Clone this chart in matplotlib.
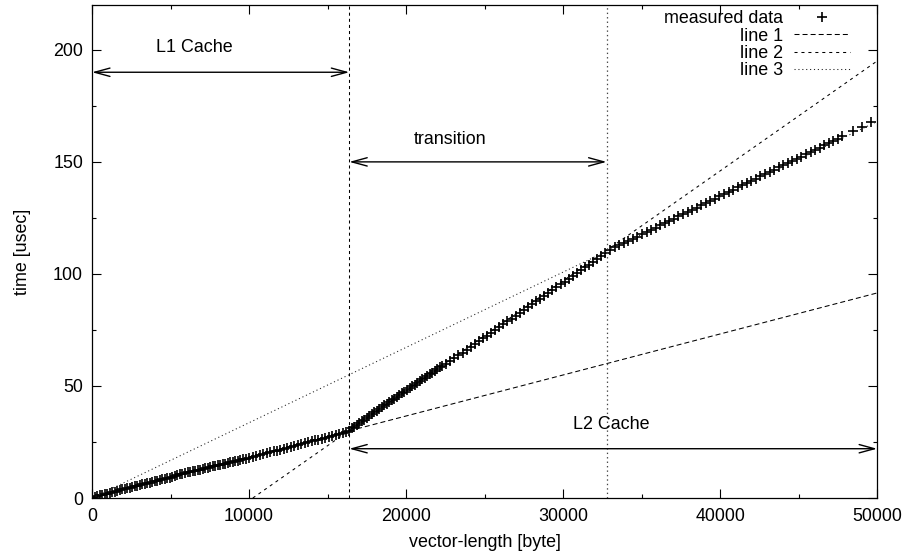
"""
Cache timing plot: time vs vector length with L1/L2 regions
"""
import matplotlib
matplotlib.use('Agg')
import matplotlib.pyplot as plt
from matplotlib.ticker import MultipleLocator

plt.rcParams['font.family'] = ['Liberation Sans', 'DejaVu Sans']
plt.rcParams['font.size'] = 12.9
plt.rcParams['lines.scale_dashes'] = False

size_l1 = [0, 160, 320, 480, 640, 800, 960, 1120, 1280, 1440, 1600, 1760, 1920,
           2080, 2240, 2400, 2560, 2720, 2880, 3040, 3200, 3360, 3520, 3680, 3840,
           4000, 4160, 4320, 4480, 4640, 4800, 4960, 5120, 5280, 5440, 5600, 5760,
           5920, 6080, 6240, 6400, 6560, 6720, 6880, 7040, 7200, 7360, 7520, 7680,
           7840, 8000, 8160, 8320, 8480, 8640, 8800, 8960, 9120, 9280, 9440, 9600]
time_l1 = [0.3, 0.6, 0.9, 1.2, 1.5, 1.8, 2.0, 2.3, 2.6, 2.9, 3.2, 3.5, 3.8,
           4.1, 4.3, 4.6, 4.9, 5.2, 5.5, 5.8, 6.1, 6.3, 6.6, 6.9, 7.2,
           7.5, 7.7, 8.0, 8.3, 8.5, 8.8, 9.0, 9.3, 9.7, 10.2, 10.6, 10.9,
           11.1, 11.4, 11.7, 11.9, 12.2, 12.5, 12.7, 13.0, 13.3, 13.5, 13.8, 14.1,
           14.3, 14.6, 14.9, 15.1, 15.4, 15.6, 15.9, 16.2, 16.4, 16.7, 17.0, 17.2]

size_l1b = [9800, 10020, 10240, 10460, 10680, 10900, 11120, 11340, 11560, 11780,
            12000, 12220, 12440, 12660, 12880, 13100, 13320, 13540, 13760, 13980,
            14200, 14420, 14640, 14860, 15080, 15300, 15520, 15740, 15960, 16180, 16384]
time_l1b = [17.6, 18.0, 18.4, 18.8, 19.2, 19.6, 20.0, 20.4, 20.8, 21.2,
            21.6, 22.0, 22.4, 22.8, 23.3, 23.7, 24.1, 24.5, 24.9, 25.3,
            25.7, 26.1, 26.5, 26.9, 27.3, 27.7, 28.1, 28.5, 28.9, 29.3, 29.8]

size_trans = [16540, 16700, 16860, 17020, 17180, 17340, 17500, 17660, 17820, 17980,
              18140, 18300, 18460, 18620, 18780, 18940, 19100, 19260, 19420, 19580,
              19740, 19900, 20060, 20220, 20380, 20540, 20700, 20860, 21020, 21180,
              21340, 21500, 21660, 21820, 21980, 22140, 22300]
time_trans = [31.2, 31.9, 32.7, 33.4, 34.2, 35.0, 35.8, 36.6, 37.4, 38.2,
              39.0, 39.8, 40.6, 41.3, 42.1, 42.9, 43.6, 44.4, 45.2, 45.9,
              46.7, 47.5, 48.3, 49.0, 49.8, 50.6, 51.3, 52.1, 52.9, 53.7,
              54.4, 55.2, 56.0, 56.7, 57.5, 58.3, 59.0]

size_trans2 = [22560, 22820, 23080, 23340, 23600, 23860, 24120, 24380, 24640, 24900,
               25160, 25420, 25680, 25940, 26200, 26460, 26720, 26980, 27240, 27500,
               27760, 28020, 28280, 28540, 28800, 29060, 29320, 29580, 29840, 30100,
               30360, 30620, 30880, 31140, 31400, 31660, 31920, 32180, 32440, 32700]
time_trans2 = [59.8, 61.1, 62.3, 63.6, 64.9, 66.1, 67.4, 68.7, 69.9, 71.2,
               72.5, 73.7, 75.0, 76.3, 77.5, 78.8, 80.1, 81.3, 82.6, 83.9,
               85.1, 86.4, 87.7, 88.9, 90.2, 91.5, 92.7, 94.0, 95.3, 96.5,
               97.8, 99.1, 100.3, 101.6, 102.9, 104.1, 105.4, 106.7, 107.9, 109.2]

size_l2 = [33000, 33290, 33580, 33870, 34160, 34450, 34740, 35030, 35320, 35610,
           35900, 36190, 36480, 36770, 37060, 37350, 37640, 37930, 38220, 38510,
           38800, 39090, 39380, 39670, 39960, 40250, 40540, 40830, 41120, 41410,
           41700, 41990, 42280, 42570, 42860, 43150, 43440, 43730, 44020, 44310,
           44600, 44890, 45180, 45470, 45760, 46050, 46340, 46630, 46920, 47210,
           47500, 47790, 48470, 49045, 49620]
time_l2 = [110.8, 111.8, 112.8, 113.8, 114.8, 115.8, 116.7, 117.7, 118.7, 119.7,
           120.7, 121.7, 122.7, 123.7, 124.7, 125.7, 126.7, 127.7, 128.6, 129.6,
           130.6, 131.6, 132.6, 133.6, 134.6, 135.6, 136.6, 137.6, 138.6, 139.6,
           140.5, 141.5, 142.5, 143.5, 144.5, 145.5, 146.5, 147.5, 148.5, 149.5,
           150.5, 151.5, 152.4, 153.4, 154.4, 155.4, 156.4, 157.4, 158.4, 159.4,
           160.4, 161.4, 163.7, 165.7, 167.6]

# fitted lines (end points)
line1_x = [0, 50000]
line1_y = [0, 91.5]
line2_x = [10240, 50000]
line2_y = [0, 195]
line3_x = [0, 50000]
line3_y = [0, 168]

# cache boundaries
l1_size = 16384
l2_size = 32768

sizes = size_l1 + size_l1b + size_trans + size_trans2 + size_l2
times = time_l1 + time_l1b + time_trans + time_trans2 + time_l2

fig = plt.figure(figsize=(9.14, 5.58), dpi=100)
ax = fig.add_axes([0.1007, 0.1075, 0.8589, 0.8835])

ax.plot(sizes, times, linestyle='none', marker='+', markersize=7.0,
        markeredgewidth=1.2, color='black', label='measured data')
ax.plot(line1_x, line1_y, color='black', lw=0.75, dashes=(3.6, 2.2), label='line 1')
ax.plot(line2_x, line2_y, color='black', lw=0.75, dashes=(2.2, 2.8), label='line 2')
ax.plot(line3_x, line3_y, color='#222222', lw=0.75, dashes=(0.8, 2.0), label='line 3')

# boundaries
ax.axvline(l1_size, color='black', lw=0.75, dashes=(2.2, 2.2))
ax.axvline(l2_size, color='#444444', lw=0.9, dashes=(1.0, 2.2))

# region arrows
arrow_kw = dict(arrowstyle='<->,head_length=1.1,head_width=0.3', lw=1.0,
                color='black', shrinkA=0, shrinkB=0, mutation_scale=10)
ax.annotate('', xy=(0, 190), xytext=(l1_size, 190), arrowprops=arrow_kw)
ax.annotate('', xy=(l1_size, 150), xytext=(l2_size, 150), arrowprops=arrow_kw)
ax.annotate('', xy=(l1_size, 22), xytext=(50000, 22), arrowprops=arrow_kw)
ax.text(6500, 201, 'L1 Cache', ha='center', va='center')
ax.text(22800, 160, 'transition', ha='center', va='center')
ax.text(33100, 33, 'L2 Cache', ha='center', va='center')

ax.set_xlim(0, 50000)
ax.set_ylim(0, 220)
ax.xaxis.set_major_locator(MultipleLocator(10000))
ax.xaxis.set_minor_locator(MultipleLocator(5000))
ax.yaxis.set_major_locator(MultipleLocator(50))
ax.yaxis.set_minor_locator(MultipleLocator(25))
ax.tick_params(which='both', direction='in', top=True, right=True, width=0.8)
ax.tick_params(which='major', length=6.5)
ax.tick_params(which='minor', length=3.2)
ax.tick_params(axis='x', pad=7.5)
ax.tick_params(axis='y', pad=6.5)
for s in ax.spines.values():
    s.set_linewidth(0.9)

ax.set_xlabel('vector-length [byte]', labelpad=6)
ax.set_ylabel('time [usec]', labelpad=16)

ax.legend(loc='upper right', bbox_to_anchor=(0.972, 1.0), frameon=False,
          markerfirst=False, numpoints=1, handlelength=3.1, handletextpad=0.6,
          labelspacing=0.02, borderpad=0.0, borderaxespad=0.3)

fig.savefig('out.png', dpi=100)
print("Saved out.png")
